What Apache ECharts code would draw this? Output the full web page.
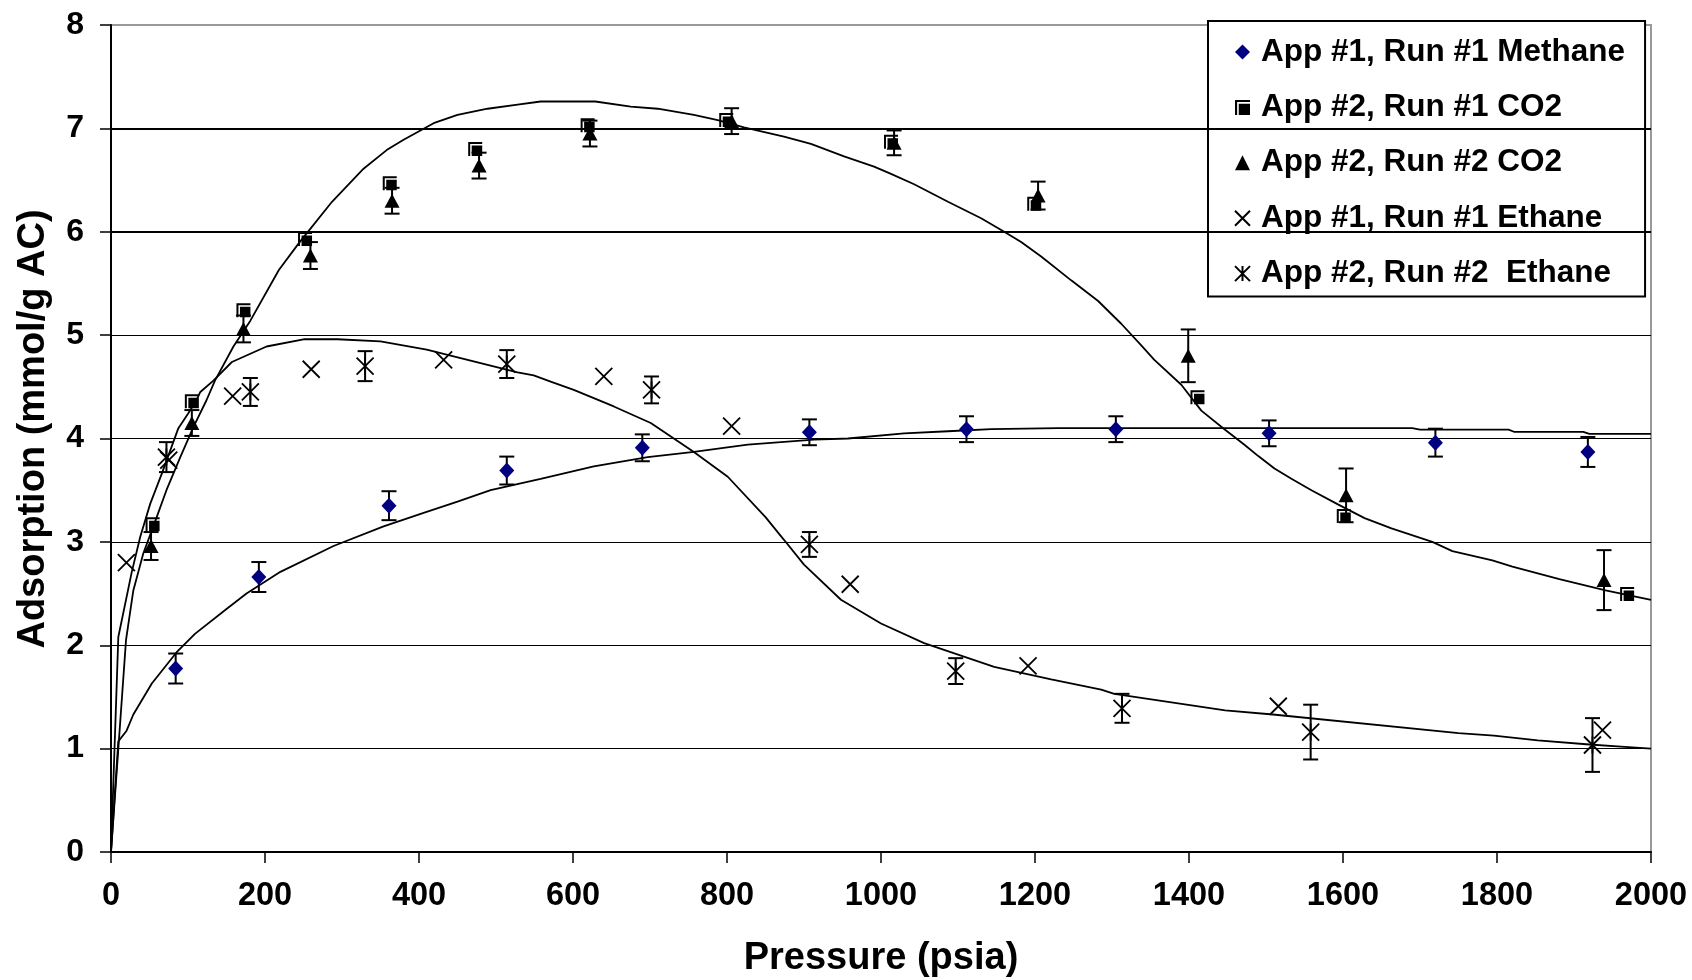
<!DOCTYPE html>
<html>
<head>
<meta charset="utf-8">
<script src="https://cdn.jsdelivr.net/npm/echarts@6/dist/echarts.min.js"></script>
<style>
  html, body { margin: 0; padding: 0; background: #fff; }
  #chart { width: 1692px; height: 980px; }
</style>
</head>
<body>
<div id="chart"></div>
<script>
// Axis ticks
const xTicks = [0, 200, 400, 600, 800, 1000, 1200, 1400, 1600, 1800, 2000];
const yTicks = [0, 1, 2, 3, 4, 5, 6, 7, 8];

// Measured points: [pressure (psia), adsorption (mmol/g AC)]
const methaneApp1Run1 = [[84, 1.775], [192, 2.66], [361, 3.35], [514, 3.69], [690, 3.91], [907, 4.06],
  [1111, 4.09], [1305, 4.09], [1504, 4.05], [1720, 3.96], [1918, 3.87]];
const methaneApp1Run1Err = [0.145, 0.145, 0.14, 0.135, 0.13, 0.125, 0.125, 0.125, 0.125, 0.135, 0.145];

const co2App2Run1 = [[54, 3.17], [105, 4.36], [172, 5.24], [252, 5.93], [362, 6.47], [473, 6.80],
  [619, 7.03], [799, 7.08], [1013, 6.87], [1199, 6.27], [1411, 4.40], [1601, 3.25], [1969, 2.495]];

const co2App2Run2 = [[52, 2.96], [105, 4.15], [172, 5.06], [259, 5.77], [365, 6.30], [478, 6.64],
  [622, 6.95], [806, 7.07], [1017, 6.86], [1204, 6.35], [1399, 4.80], [1604, 3.45], [1939, 2.63]];
const co2App2Run2Err = [0.135, 0.125, 0.13, 0.13, 0.125, 0.125, 0.125, 0.125, 0.12, 0.135, 0.255, 0.26, 0.29];

const ethaneApp1Run1 = [[20, 2.80], [75, 3.79], [158, 4.41], [260, 4.67], [432, 4.76], [640, 4.60],
  [806, 4.12], [960, 2.59], [1191, 1.80], [1516, 1.41], [1937, 1.18]];

const ethaneApp2Run2 = [[72, 3.82], [181, 4.45], [330, 4.70], [514, 4.72], [702, 4.47], [907, 2.975],
  [1097, 1.75], [1313, 1.39], [1558, 1.16], [1924, 1.035]];
const ethaneApp2Run2Err = [0.145, 0.135, 0.145, 0.135, 0.13, 0.12, 0.125, 0.14, 0.265, 0.26];

// Model curves
const methaneModel = [[0, 0], [9.5, 1.07], [20, 1.17], [29, 1.33], [53, 1.63], [85, 1.93], [109, 2.11],
  [150, 2.35], [176, 2.50], [220, 2.71], [289, 2.96], [354, 3.15], [406, 3.28], [450, 3.39], [493, 3.50],
  [558, 3.61], [627, 3.73], [697, 3.82], [757, 3.87], [827, 3.94], [913, 3.99], [957, 4.00], [1030, 4.05],
  [1087, 4.07], [1143, 4.09], [1230, 4.10], [1690, 4.10], [1700, 4.085], [1815, 4.085], [1822, 4.065],
  [1912, 4.065], [1920, 4.045], [2000, 4.045]];

const co2Model = [[0, 0], [19.5, 2.05], [29, 2.53], [42, 2.89], [55, 3.15], [72, 3.50], [90, 3.82],
  [107, 4.11], [124, 4.37], [135, 4.56], [159, 4.89], [181, 5.14], [218, 5.63], [244, 5.89], [287, 6.29],
  [328, 6.61], [358, 6.79], [380, 6.89], [419, 7.05], [450, 7.13], [489, 7.19], [528, 7.23], [558, 7.26],
  [629, 7.26], [675, 7.21], [710, 7.19], [757, 7.13], [788, 7.08], [822, 7.01], [874, 6.92], [909, 6.85],
  [952, 6.73], [991, 6.63], [1013, 6.56], [1043, 6.46], [1087, 6.29], [1130, 6.13], [1160, 6.00],
  [1182, 5.90], [1208, 5.76], [1247, 5.53], [1282, 5.33], [1312, 5.11], [1338, 4.90], [1355, 4.76],
  [1390, 4.52], [1416, 4.27], [1446, 4.09], [1472, 3.94], [1490, 3.83], [1511, 3.71], [1533, 3.61],
  [1559, 3.50], [1594, 3.36], [1628, 3.23], [1663, 3.13], [1716, 3.00], [1742, 2.91], [1794, 2.82],
  [1820, 2.76], [1881, 2.64], [1941, 2.53], [2000, 2.44]];

const ethaneModel = [[0, 0], [9.5, 2.08], [27, 2.71], [38, 3.05], [51, 3.37], [66, 3.66], [87.5, 4.10],
  [100, 4.24], [111, 4.37], [116, 4.45], [133, 4.56], [157, 4.74], [202, 4.89], [250, 4.96], [294, 4.96],
  [350, 4.94], [410, 4.86], [480, 4.73], [528, 4.64], [549, 4.61], [571, 4.55], [601, 4.47], [653, 4.31],
  [701, 4.15], [757, 3.87], [801, 3.63], [850, 3.24], [874, 3.02], [900, 2.78], [948, 2.44], [1000, 2.21],
  [1056, 2.02], [1147, 1.79], [1221, 1.67], [1286, 1.57], [1303, 1.53], [1447, 1.37], [1509, 1.33],
  [1750, 1.15], [1796, 1.125], [1853, 1.08], [1920, 1.04], [1961, 1.02], [2000, 1.00]];

const seriesNames = ['App #1, Run #1 Methane', 'App #2, Run #1 CO2', 'App #2, Run #2 CO2',
  'App #1, Run #1 Ethane', 'App #2, Run #2  Ethane'];

// Grid values drawn with a heavier rule
const heavyGridValues = [6, 7];

const FONT = '"Liberation Sans", Arial, Helvetica, sans-serif';
const SQUARE_MARK = 'path://M0 0H28V4H0Z M0 0H4V28H0Z M7 7H28V28H7Z';
const CROSS_MARK = 'path://M0 0L20 20M20 0L0 20';
const STAR_MARK = 'path://M0 0L20 20M20 0L0 20M10 0L10 20';

function withErr(points, errs) {
  return points.map((p, i) => [p[0], p[1], errs[i]]);
}

// Vertical error bar with caps, positioned through the axis scales
function errorBar(params, api) {
  const x = api.value(0), y = api.value(1), e = api.value(2);
  const top = api.coord([x, y + e]);
  const bot = api.coord([x, y - e]);
  const half = 7.5;
  const style = { stroke: '#000', lineWidth: 2, fill: null };
  return {
    type: 'group',
    children: [
      { type: 'line', shape: { x1: top[0], y1: top[1], x2: bot[0], y2: bot[1] }, style },
      { type: 'line', shape: { x1: top[0] - half, y1: top[1], x2: top[0] + half, y2: top[1] }, style },
      { type: 'line', shape: { x1: bot[0] - half, y1: bot[1], x2: bot[0] + half, y2: bot[1] }, style }
    ]
  };
}

function modelLine(name, data, extra) {
  return Object.assign({
    name, type: 'line', data, showSymbol: false, symbol: 'none', smooth: false,
    lineStyle: { color: '#000', width: 1.8, opacity: 1 }, silent: true, z: 2
  }, extra || {});
}

function errSeries(name, data) {
  return {
    name, type: 'custom', data, renderItem: errorBar, encode: { x: 0, y: 1 },
    silent: true, z: 3
  };
}

function markSeries(name, data, symbol, size, itemStyle) {
  return {
    name, type: 'scatter', data, symbol, symbolSize: size, z: 4, silent: true,
    itemStyle: Object.assign({ opacity: 1 }, itemStyle),
    emphasis: { disabled: true }
  };
}

const chart = echarts.init(document.getElementById('chart'), null, { renderer: 'canvas' });

chart.setOption({
  animation: false,
  backgroundColor: '#fff',
  textStyle: { fontFamily: FONT },
  grid: {
    left: 111, right: 41, top: 25, bottom: 128,
    show: true, borderColor: '#999', borderWidth: 2, backgroundColor: '#fff',
    containLabel: false, outerBoundsMode: 'none'
  },
  xAxis: {
    type: 'value',
    min: xTicks[0], max: xTicks[xTicks.length - 1], interval: xTicks[1] - xTicks[0],
    name: 'Pressure (psia)', nameLocation: 'middle', nameGap: 88,
    nameTextStyle: { fontSize: 38, fontWeight: 'bold', color: '#000', fontFamily: FONT },
    axisLine: { show: true, onZero: false, lineStyle: { color: '#000', width: 2 } },
    axisTick: { show: true, inside: false, length: 11, lineStyle: { color: '#000', width: 1.5 } },
    axisLabel: {
      margin: 28, fontSize: 32.5, fontWeight: 'bold', color: '#000', fontFamily: FONT,
      formatter: v => String(v)
    },
    splitLine: { show: false }
  },
  yAxis: {
    type: 'value',
    min: yTicks[0], max: yTicks[yTicks.length - 1], interval: yTicks[1] - yTicks[0],
    name: 'Adsorption (mmol/g AC)', nameLocation: 'middle', nameGap: 58, nameRotate: 90,
    nameTextStyle: { fontSize: 38, fontWeight: 'bold', color: '#000', fontFamily: FONT, padding: [0, 0, 0, 19] },
    axisLine: { show: true, onZero: false, lineStyle: { color: '#000', width: 2 } },
    axisTick: { show: true, inside: false, length: 11, lineStyle: { color: '#000', width: 1.5 } },
    axisLabel: {
      margin: 27, fontSize: 32, fontWeight: 'bold', color: '#000', fontFamily: FONT,
      formatter: v => String(v)
    },
    splitLine: { show: true, showMinLine: false, showMaxLine: false, lineStyle: { color: '#000', width: 1 } }
  },
  legend: {
    data: seriesNames,
    orient: 'vertical',
    left: 1208, top: 21,
    padding: [13, 20, 5, 26],
    itemGap: 19.4,
    itemWidth: 15, itemHeight: 15,
    backgroundColor: '#fff',
    borderColor: '#000', borderWidth: 2, borderRadius: 0,
    selectedMode: false,
    itemStyle: { opacity: 1 },
    textStyle: {
      fontSize: 31.5, fontWeight: 'bold', color: '#000', fontFamily: FONT,
      lineHeight: 36, padding: [0, 0, 0, 6]
    }
  },
  series: [
    modelLine('methaneModel', methaneModel, {
      markLine: {
        silent: true, symbol: 'none', label: { show: false },
        lineStyle: { color: '#000', width: 1.8, type: 'solid', opacity: 1 },
        emphasis: { disabled: true },
        data: heavyGridValues.map(v => ({ yAxis: v }))
      }
    }),
    modelLine('co2Model', co2Model),
    modelLine('ethaneModel', ethaneModel),
    errSeries('methaneErr', withErr(methaneApp1Run1, methaneApp1Run1Err)),
    errSeries('co2Run2Err', withErr(co2App2Run2, co2App2Run2Err)),
    errSeries('ethaneRun2Err', withErr(ethaneApp2Run2, ethaneApp2Run2Err)),
    markSeries(seriesNames[0], methaneApp1Run1, 'diamond', [15, 16], { color: '#000080' }),
    markSeries(seriesNames[1], co2App2Run1, SQUARE_MARK, 14, { color: '#000' }),
    markSeries(seriesNames[2], co2App2Run2, 'triangle', [15, 14], { color: '#000' }),
    markSeries(seriesNames[3], ethaneApp1Run1, CROSS_MARK, 17,
      { color: 'transparent', borderColor: '#000', borderWidth: 1.8 }),
    markSeries(seriesNames[4], ethaneApp2Run2, STAR_MARK, 17,
      { color: 'transparent', borderColor: '#000', borderWidth: 1.8 })
  ]
});
</script>
</body>
</html>
